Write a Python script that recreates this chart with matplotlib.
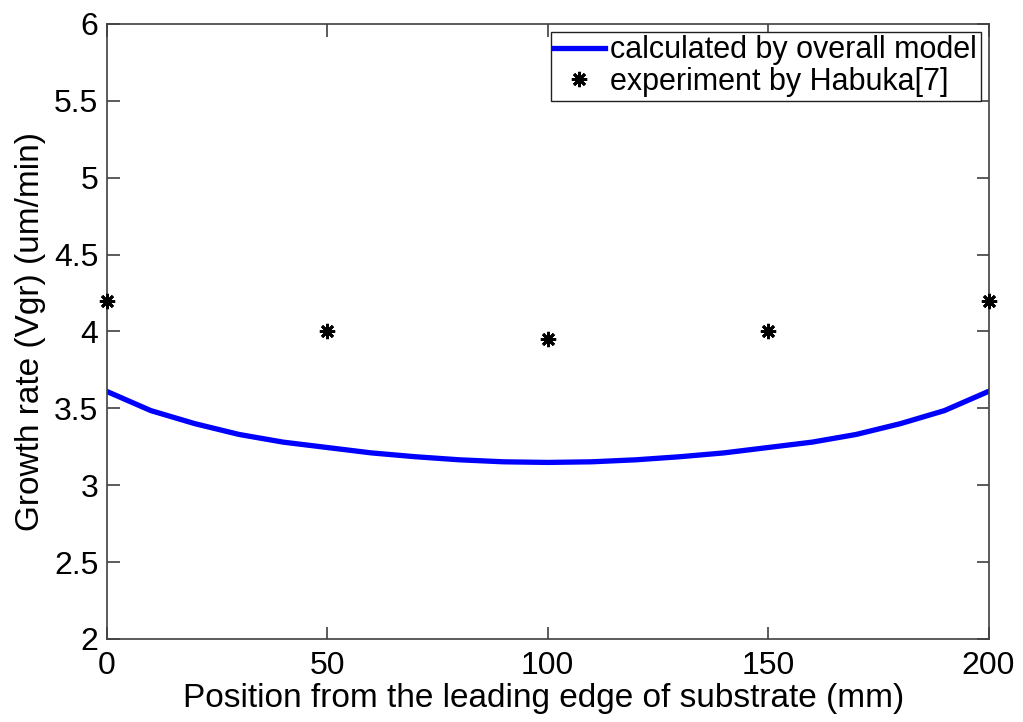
import matplotlib
matplotlib.use("Agg")
import matplotlib.pyplot as plt

plt.rcParams['font.family'] = ['Liberation Sans', 'DejaVu Sans']

# Overall model prediction (growth rate vs position)
position_model = [0, 10, 20, 30, 40, 50, 60, 70, 80, 90, 100,
                  110, 120, 130, 140, 150, 160, 170, 180, 190, 200]
rate_model = [3.61, 3.485, 3.40, 3.33, 3.28, 3.245, 3.21, 3.185, 3.165, 3.152, 3.148,
              3.152, 3.165, 3.185, 3.21, 3.245, 3.28, 3.33, 3.40, 3.485, 3.61]

# Measured growth rates
position_exp = [0, 50, 100, 150, 200]
rate_exp = [4.2, 4.0, 3.95, 4.0, 4.2]

xticks = [0, 50, 100, 150, 200]
yticks = [2, 2.5, 3, 3.5, 4, 4.5, 5, 5.5, 6]
yticklabels = ['2', '2.5', '3', '3.5', '4', '4.5', '5', '5.5', '6']

fig = plt.figure(figsize=(10.23, 7.22), dpi=100)
ax = fig.add_axes([0.1043, 0.115, 0.862, 0.852])

ax.plot(position_model, rate_model, color='#0000ff', linewidth=3.8,
        label='calculated by overall model')
ax.plot(position_exp, rate_exp, linestyle='none', marker=(8, 2, 0),
        markersize=11, markeredgewidth=2.0, color='black', clip_on=False,
        label='experiment by Habuka[7]', zorder=5)

ax.set_xlim(0, 200)
ax.set_ylim(2, 6)
ax.set_xticks(xticks)
ax.set_yticks(yticks)
ax.set_yticklabels(yticklabels)

for s in ax.spines.values():
    s.set_color('#404040')
    s.set_linewidth(1.2)
ax.tick_params(direction='in', length=9, width=1.2, colors='#404040',
               labelcolor='black', labelsize=23, top=True, right=True)
ax.tick_params(axis='x', pad=8.5)
ax.tick_params(axis='y', pad=6)

ax.set_xlabel('Position from the leading edge of substrate (mm)', fontsize=24)
ax.set_ylabel('Growth rate (Vgr) (um/min)', fontsize=24)
ax.xaxis.set_label_coords(0.495, -0.072)
ax.yaxis.set_label_coords(-0.069, 0.5)

leg = ax.legend(loc='upper right', fontsize=22, frameon=True, fancybox=False,
                edgecolor='#202020', handlelength=1.65, handletextpad=0.18,
                borderpad=0.12, labelspacing=0.05, borderaxespad=0.26,
                framealpha=1)
leg.get_frame().set_linewidth(1.0)

fig.savefig('out.png', dpi=100)
